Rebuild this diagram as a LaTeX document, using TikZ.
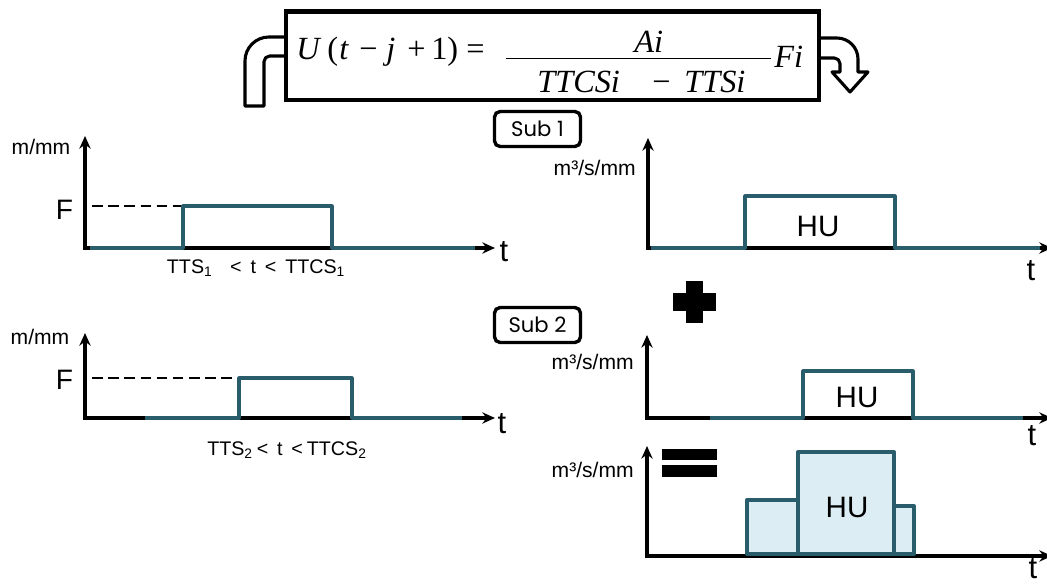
\documentclass[tikz,border=0pt]{standalone}
\usepackage{fontspec}
\setmainfont{Liberation Sans}
\newfontfamily\eqfont{Liberation Serif}
\newfontfamily\subfont{Poppins}
\usetikzlibrary{arrows.meta}
\definecolor{tealline}{HTML}{2A5D6B}
\definecolor{hufill}{HTML}{DCEEF4}
\begin{document}
\begin{tikzpicture}[
			x=0.025cm, y=-0.025cm,
			asse/.style={line width=2.4pt, black, {Stealth[length=9pt,width=8pt]}-{Stealth[length=9pt,width=8pt]}},
			impulso/.style={line width=2.2pt, tealline, line join=round},
			blocco/.style={line width=2.8pt, tealline, fill=hufill, line join=round},
			tratteggio/.style={line width=1.5pt, black, dash pattern=on 7.5pt off 4pt},
			fascia/.style={line width=2.2pt, black, fill=white, line join=round},
			cornice/.style={line width=3.3pt, black},
			eq/.style={inner sep=0pt, anchor=base west, font=\eqfont\fontsize{23}{26}\selectfont},
			etichetta/.style={inner sep=0pt, font=\fontsize{15}{18}\selectfont},
			grande/.style={inner sep=0pt, font=\fontsize{20}{24}\selectfont},
			tempo/.style={inner sep=0pt, font=\fontsize{22}{26}\selectfont},
			subbox/.style={draw, line width=2.4pt, rounded corners=4pt, minimum width=2.15cm,
				minimum height=0.875cm, inner sep=0pt, font=\subfont\fontsize{15}{17}\selectfont}]
			
			\useasboundingbox (0,0) rectangle (1047,584);
			
			%% --- frecce a fascia attorno alla formula ---
			\draw[fascia] (288,37) [rounded corners=17pt] -- (245,37) [sharp corners] -- (245,106)
				-- (264,106) [rounded corners=4pt] -- (264,56) -- (288,56);
			\draw[fascia] (817,38) [rounded corners=15pt] -- (858,38) [sharp corners] -- (858,72)
				-- (868,72) -- (850,92) -- (832,72) -- (840,72)
				[rounded corners=4pt] -- (840,58) -- (817,58);
			
			%% --- riquadro della formula ---
			\draw[cornice, fill=white] (286,11.5) rectangle (819,100);
			\node[eq] (fU)  at (296,60) {\itshape U};
			\node[eq] (fpa) at (327,60) {(};
			\node[eq] (ft)  at (339,60) {\itshape t};
			\node[eq] (fm)  at (359,60) {−};
			\node[eq] (fj)  at (386,60) {\itshape j};
			\node[eq] (fp)  at (407,60) {+};
			\node[eq] (f1)  at (431,60) {1};
			\node[eq] (fpc) at (447,60) {)};
			\node[eq] (fug) at (466,60) {=};
			\node[eq] (fAi) at (634,53) {\itshape Ai};
			\draw[line width=0.7pt] (506,58) -- (771,58);
			\node[eq] (fTC) at (537,93) {\itshape TTCSi};
			\node[eq] (fm2) at (652,93) {−};
			\node[eq] (fTS) at (684,93) {\itshape TTSi};
			\node[eq] (fFi) at (774,68) {\itshape Fi};
			
			%% --- etichette dei sottobacini ---
			\node[subbox] (sub1) at (537.5,129) {Sub 1};
			\node[subbox] (sub2) at (537.5,325) {Sub 2};
			
			%% --- ietogramma sub 1 ---
			\draw[asse] (85,136) |- (495,248);
			\draw[tratteggio] (92,206) -- (182,206);
			\draw[impulso] (90,248) -- (183,248) -- (183,206) -- (332,206) -- (332,248) -- (475,248);
			\node[etichetta] (mm1) at (41,147) {m/mm};
			\node[grande] (F1) at (64.5,209.5) {F};
			\node[tempo] (t1) at (504,252) {t};
			\node[etichetta, font=\fontsize{14}{16}\selectfont] (int1) at (256,268)
				{TTS\textsubscript{1}\hspace{0.9em}<\hspace{0.45em}t\hspace{0.45em}<\hspace{0.45em}TTCS\textsubscript{1}};
			
			%% --- ietogramma sub 2 ---
			\draw[asse] (85,333) |- (495,418);
			\draw[tratteggio] (92,378) -- (238,378);
			\draw[impulso] (145,418) -- (239,418) -- (239,378) -- (352,378) -- (352,418) -- (462,418);
			\node[etichetta] (mm2) at (40,337) {m/mm};
			\node[grande] (F2) at (64.5,380) {F};
			\node[tempo] (t2) at (502,424) {t};
			\node[etichetta, font=\fontsize{14}{16}\selectfont] (int2) at (287,450)
				{TTS\textsubscript{2}\hspace{0.2em}<\hspace{0.45em}t\hspace{0.45em}<\hspace{0.2em}TTCS\textsubscript{2}};
			
			%% --- idrogramma unitario sub 1 ---
			\draw[asse] (648,138) |- (1052,248);
			\draw[impulso] (651,248) -- (745,248) -- (745,196) -- (895,196) -- (895,248) -- (1040,248);
			\node[etichetta, anchor=east] (q1) at (636,168) {m³/s/mm};
			\node[grande, font=\fontsize{21}{24}\selectfont] (HU1) at (818,226) {HU};
			\node[tempo] (t3) at (1031,271) {t};
			
			%% --- segno piu' ---
			\fill (686,281) rectangle (703,323);
			\fill (673,293) rectangle (716,311);
			
			%% --- idrogramma unitario sub 2 ---
			\draw[asse] (647,335) |- (1052,418);
			\draw[impulso] (710,418) -- (803,418) -- (803,371) -- (913,371) -- (913,418) -- (1023,418);
			\node[etichetta, anchor=east] (q2) at (634,362) {m³/s/mm};
			\node[grande, font=\fontsize{21}{24}\selectfont] (HU2) at (857,397) {HU};
			\node[tempo] (t4) at (1032,436) {t};
			
			%% --- segno uguale ---
			\fill (662,449) rectangle (717,460);
			\fill (662,465) rectangle (717,477);
			
			%% --- idrogramma risultante ---
			\draw[asse] (647,446) |- (1052,556);
			\draw[blocco] (747,500) rectangle (798,554);
			\draw[blocco] (894,506) rectangle (914,554);
			\draw[blocco] (798,452) rectangle (894,554);
			\node[etichetta, anchor=east] (q3) at (634,470) {m³/s/mm};
			\node[grande, font=\fontsize{21}{24}\selectfont] (HU3) at (847,507) {HU};
			\node[tempo] (t5) at (1033,569) {t};
			
		\end{tikzpicture}
\end{document}
